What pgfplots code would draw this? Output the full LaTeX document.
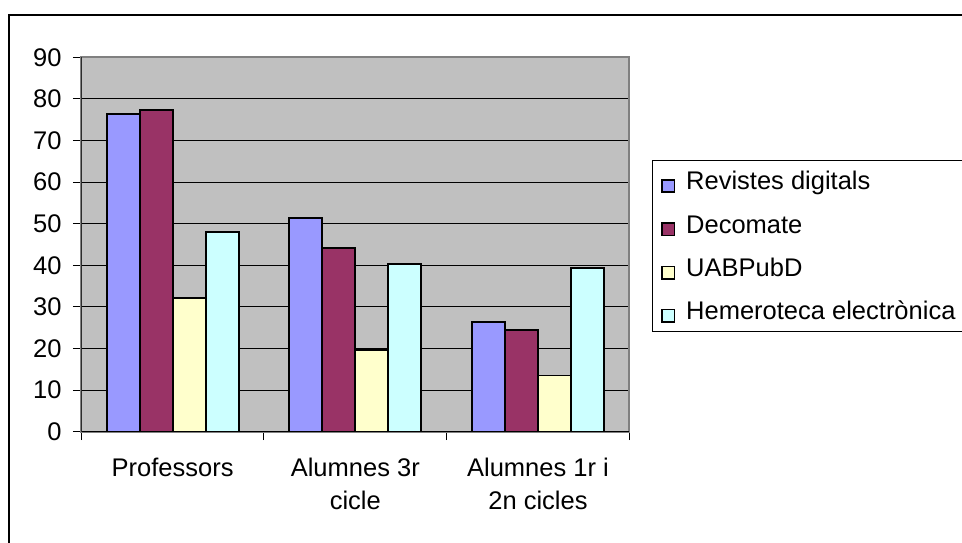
\documentclass[border=0pt]{standalone}
\usepackage{fontspec}
\setmainfont{Liberation Sans}
\usepackage{pgfplots}
\pgfplotsset{compat=1.18}
\definecolor{bgray}{RGB}{192,192,192}
\definecolor{frgray}{RGB}{128,128,128}
\definecolor{c1}{RGB}{153,153,255}
\definecolor{c2}{RGB}{153,51,102}
\definecolor{c3}{RGB}{255,255,204}
\definecolor{c4}{RGB}{204,255,255}
\begin{document}
\begin{tikzpicture}[x=1pt,y=1pt]
\useasboundingbox (0,0) rectangle (962,543);
\draw[line width=2pt] (9,-20) -- (9,528) -- (990,528);
\begin{axis}[
  at={(81.3pt,111.3pt)}, anchor=south west,
  scale only axis, width=548pt, height=374.4pt,
  xmin=-0.5, xmax=2.5, ymin=0, ymax=90,
  ybar=0pt, bar width=33pt,
  axis background/.style={fill=bgray},
  axis line style={draw=frgray, line width=2pt},
  ymajorgrids, grid style={black, line width=0.9pt},
  ytick={0,10,...,90},
  xtick={-0.5,0.5,1.5,2.5},
  xticklabels={,,,},
  extra x ticks={0,1,2},
  extra x tick labels={Professors,{Alumnes 3r\\cicle},{Alumnes 1r i\\2n cicles}},
  extra x tick style={major tick length=0pt, grid=none,
    xticklabel style={align=center, inner sep=0pt, anchor=north, yshift=-26pt}},
  tick style={black, line width=1pt},
  tick align=outside, major tick length=8.5pt,
  xtick pos=bottom, ytick pos=left,
  /pgf/number format/assume math mode=true,
  tick label style={font=\fontsize{25.5}{33.5}\selectfont},
  yticklabel style={inner sep=0pt, xshift=-11pt},
  legend style={at={(1.0409,0.7257)}, anchor=north west, draw=black, line width=1pt,
    fill=white, font=\fontsize{25.5}{30}\selectfont,
    inner xsep=9pt, inner ysep=7.3pt, row sep=17.3pt,
    cells={anchor=base west},
    nodes={inner sep=0pt, text height=22pt, text depth=4pt},
    /tikz/every odd column/.style={column sep=11pt}},
  legend image code/.code={\draw[#1, line width=1.5pt] (0pt,-2.4pt) rectangle (12.5pt,10pt);},
]
\addplot[fill=c1, draw=black, line width=1.8pt] coordinates {(0,76.4) (1,51.4) (2,26.4)};
\addplot[fill=c2, draw=black, line width=1.8pt] coordinates {(0,77.3) (1,44.2) (2,24.5)};
\addplot[fill=c3, draw=black, line width=1.8pt] coordinates {(0,32.2) (1,19.6) (2,13.5)};
\addplot[fill=c4, draw=black, line width=1.8pt] coordinates {(0,48.1) (1,40.4) (2,39.4)};
\legend{Revistes digitals, Decomate, UABPubD, Hemeroteca electrònica}
\draw[black, line width=1.2pt] (rel axis cs:0,1) -- (rel axis cs:0,0) -- (rel axis cs:1,0);
\end{axis}
\end{tikzpicture}
\end{document}
